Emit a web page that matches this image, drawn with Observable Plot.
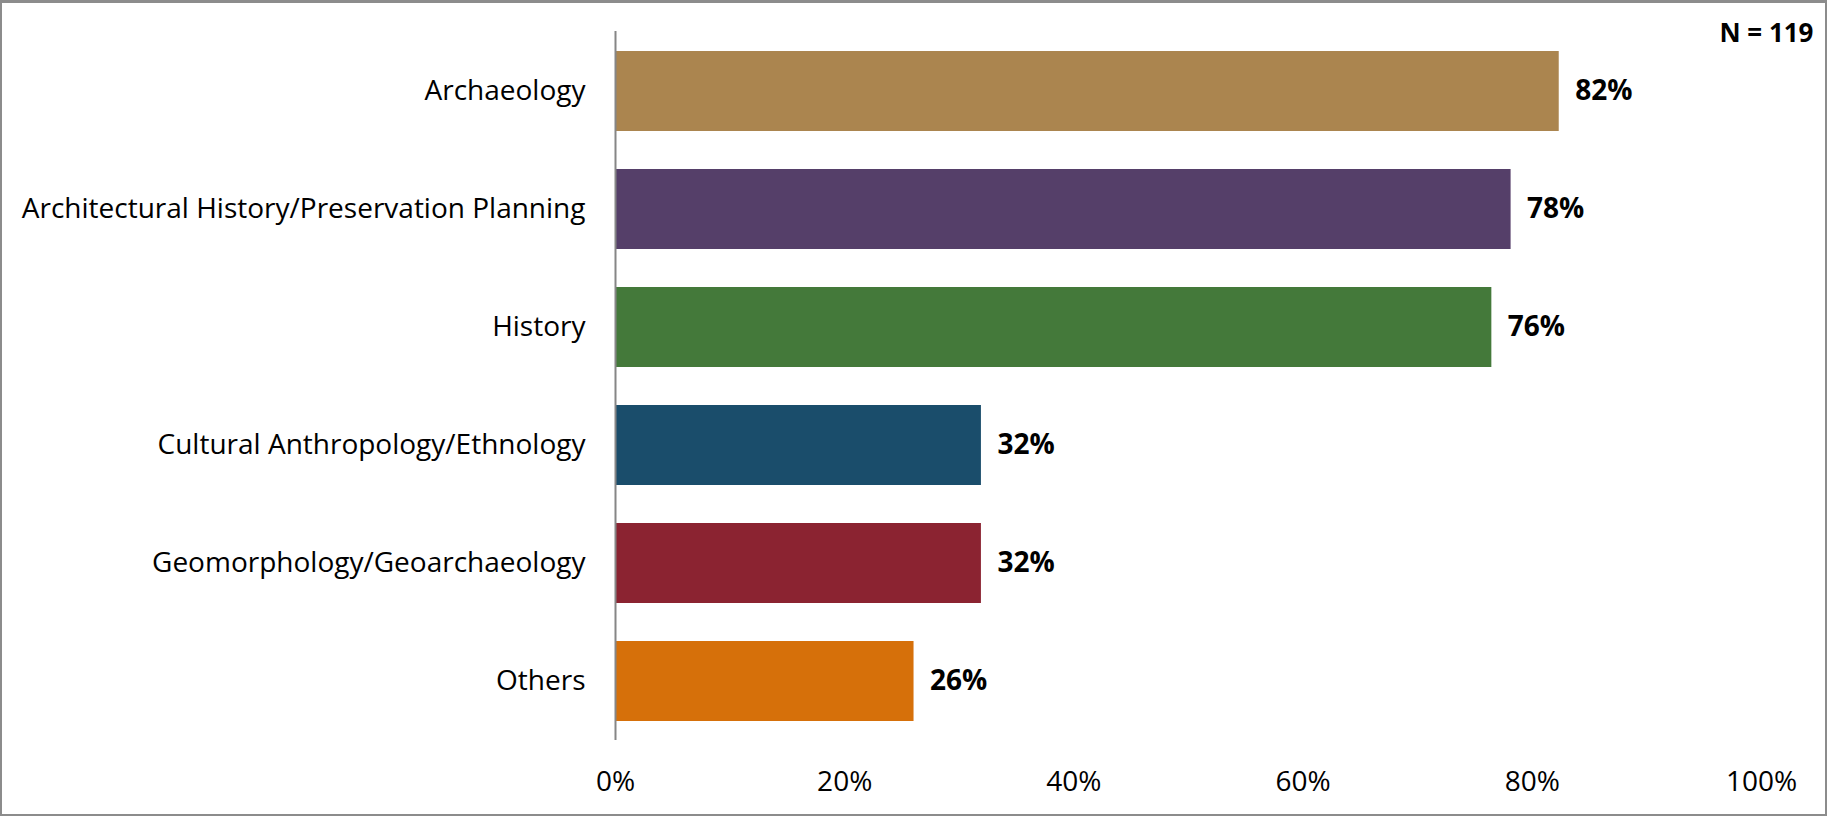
<!DOCTYPE html>
<html>
<head>
<meta charset="utf-8">
<script src="https://cdn.jsdelivr.net/npm/d3@7"></script>
<script src="https://cdn.jsdelivr.net/npm/@observablehq/plot@0.6"></script>
<style>
  html, body { margin: 0; padding: 0; background: #fff; overflow: hidden; }
  #wrap { position: relative; width: 1827px; height: 816px; }
  #wrap svg { display: block; }
  #border { position: absolute; left: 0; top: 0; width: 1827px; height: 816px; box-sizing: border-box;
            border: 2px solid #8c8c8c; border-top-width: 3px; pointer-events: none; }
</style>
</head>
<body>
<div id="wrap"><div id="border"></div></div>
<script>
const categories = [
  "Archaeology",
  "Architectural History/Preservation Planning",
  "History",
  "Cultural Anthropology/Ethnology",
  "Geomorphology/Geoarchaeology",
  "Others"
];
const values = [82.35, 78.15, 76.47, 31.93, 31.93, 26.05];
const colors = ["#ab854f", "#553f69", "#44793a", "#1a4d6b", "#8b2331", "#d6700a"];
const xTicks = [0, 20, 40, 60, 80, 100];
const sampleNote = "N = 119";

const data = categories.map((c, i) => ({category: c, value: values[i]}));

const chart = Plot.plot({
  width: 1827,
  height: 816,
  marginLeft: 615,
  marginRight: 66,
  marginTop: 31,
  marginBottom: 76,
  style: {fontFamily: "'Open Sans', sans-serif", fontSize: "28px", color: "#000", background: "transparent"},
  x: {domain: [0, 100], label: null},
  y: {domain: categories, paddingInner: 0.326, paddingOuter: 0.16, label: null},
  color: {domain: categories, range: colors},
  marks: [
    Plot.barX(data, {y: "category", x: "value", fill: "category"}),
    Plot.ruleX([0], {stroke: "#868686", strokeWidth: 2}),
    Plot.axisY({tickSize: 0, tickPadding: 30, fill: "#000", fontSize: 28, label: null}),
    Plot.axisX({ticks: xTicks, tickFormat: d => d + "%", tickSize: 0, tickPadding: 31, fill: "#000", fontSize: 28, label: null}),
    Plot.text(data, {y: "category", x: "value", text: d => Math.round(d.value) + "%",
      dx: 16, textAnchor: "start", fontWeight: "bold", fontSize: 28, fill: "#000"}),
    Plot.text([sampleNote], {frameAnchor: "top-right", dx: 52, dy: 2, textAnchor: "end",
      lineAnchor: "middle", fontWeight: "bold", fontSize: 26, fill: "#000"})
  ]
});
document.getElementById("wrap").prepend(chart);
</script>
</body>
</html>
